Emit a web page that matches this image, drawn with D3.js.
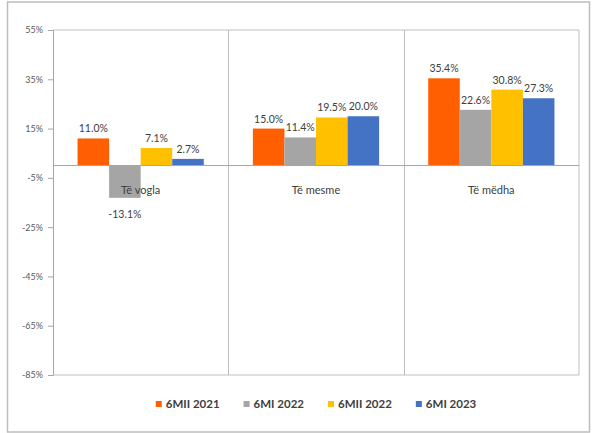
<!DOCTYPE html>
<html>
<head>
<meta charset="utf-8">
<script src="https://cdn.jsdelivr.net/npm/d3@7"></script>
<style>
  html, body { margin: 0; padding: 0; background: #fff; }
  svg { display: block; }
  text { font-family: Lato, "Open Sans", sans-serif; }
</style>
</head>
<body>
<svg id="chart" width="592" height="433"></svg>
<script>
// Growth by enterprise size, per half-year period
const categories = ["Të vogla", "Të mesme", "Të mëdha"];
const seriesNames = ["6MII 2021", "6MI 2022", "6MII 2022", "6MI 2023"];
const s2021H2 = [11.0, 15.0, 35.4];
const s2022H1 = [-13.1, 11.4, 22.6];
const s2022H2 = [7.1, 19.5, 30.8];
const s2023H1 = [2.7, 20.0, 27.3];
const yTicks = [55, 35, 15, -5, -25, -45, -65, -85];
const seriesColors = ["#FF5F00", "#A5A5A5", "#FFC000", "#4472C4"];

const seriesValues = [s2021H2, s2022H1, s2022H2, s2023H1];

const svg = d3.select("#chart");
const W = 592, H = 433;
const plot = { left: 53, right: 579, top: 30, bottom: 375 };

// outer chart frame
svg.append("rect")
  .attr("x", 7.5).attr("y", 2).attr("width", 582).attr("height", 430)
  .attr("fill", "#fff").attr("stroke", "#bdbdbd").attr("stroke-width", 1.5);

const y = d3.scaleLinear().domain([-85, 55]).range([plot.bottom, plot.top]);
const x0 = d3.scaleBand().domain(categories).range([plot.left, plot.right]).paddingInner(0).paddingOuter(0);
const groupWidth = x0.bandwidth() * 0.72;
const x1 = d3.scaleBand().domain(seriesNames)
  .range([0, groupWidth]).padding(0);
const groupOffset = (x0.bandwidth() - groupWidth) / 2;

const lineColor = "#bfbfbf";

// plot border (top, right, bottom)
svg.append("path")
  .attr("d", `M${plot.left},${plot.top}H${plot.right}V${plot.bottom}H${plot.left}`)
  .attr("fill", "none").attr("stroke", lineColor).attr("stroke-width", 1);

// category separators
categories.slice(1).forEach(c => {
  svg.append("line")
    .attr("x1", Math.round(x0(c)) + 0.5).attr("x2", Math.round(x0(c)) + 0.5)
    .attr("y1", plot.top).attr("y2", plot.bottom)
    .attr("stroke", lineColor).attr("stroke-width", 1);
});

// y axis
const yAxis = d3.axisLeft(y)
  .tickValues(yTicks)
  .tickSize(5)
  .tickPadding(5)
  .tickFormat(d => d + "%");
const gy = svg.append("g")
  .attr("transform", `translate(${plot.left},0)`)
  .call(yAxis);
gy.select(".domain").attr("stroke", "#a6a6a6");
gy.selectAll(".tick line").attr("stroke", "#a6a6a6");
gy.selectAll(".tick text")
  .attr("fill", "#595959")
  .style("font-size", "9px");

// bars
categories.forEach((cat, ci) => {
  seriesNames.forEach((s, si) => {
    const v = seriesValues[si][ci];
    const bx = x0(cat) + groupOffset + x1(s);
    svg.append("rect")
      .attr("x", bx)
      .attr("y", y(Math.max(0, v)))
      .attr("width", x1.bandwidth())
      .attr("height", Math.abs(y(v) - y(0)))
      .attr("fill", seriesColors[si]);
  });
});

// zero line
svg.append("line")
  .attr("x1", plot.left).attr("x2", plot.right)
  .attr("y1", y(0)).attr("y2", y(0))
  .attr("stroke", "#a6a6a6").attr("stroke-width", 1);

// category labels, next to the zero line
categories.forEach(cat => {
  svg.append("text")
    .attr("x", x0(cat) + x0.bandwidth() / 2)
    .attr("y", y(0) + 28)
    .attr("text-anchor", "middle")
    .attr("fill", "#404040")
    .style("font-size", "11px")
    .text(cat);
});

// value labels
categories.forEach((cat, ci) => {
  seriesNames.forEach((s, si) => {
    const v = seriesValues[si][ci];
    const cx = x0(cat) + groupOffset + x1(s) + x1.bandwidth() / 2;
    svg.append("text")
      .attr("x", cx)
      .attr("y", v >= 0 ? y(v) - 6 : y(v) + 20)
      .attr("text-anchor", "middle")
      .attr("fill", "#404040")
      .style("font-size", "10.5px")
      .text(v.toFixed(1) + "%");
  });
});

// legend
const legend = svg.append("g");
let lx = 0;
seriesNames.forEach((s, i) => {
  const item = legend.append("g").attr("transform", `translate(${lx},0)`);
  item.append("rect")
    .attr("x", 0).attr("y", -3).attr("width", 6).attr("height", 6)
    .attr("fill", seriesColors[i]);
  const t = item.append("text")
    .attr("x", 10).attr("y", 4)
    .attr("fill", "#404040")
    .style("font-size", "11.5px")
    .style("font-weight", "bold")
    .text(s);
  lx += 10 + t.node().getComputedTextLength() + 24;
});
const legendWidth = lx - 24;
legend.attr("transform", `translate(${(plot.left + plot.right) / 2 - legendWidth / 2},404)`);
</script>
</body>
</html>
